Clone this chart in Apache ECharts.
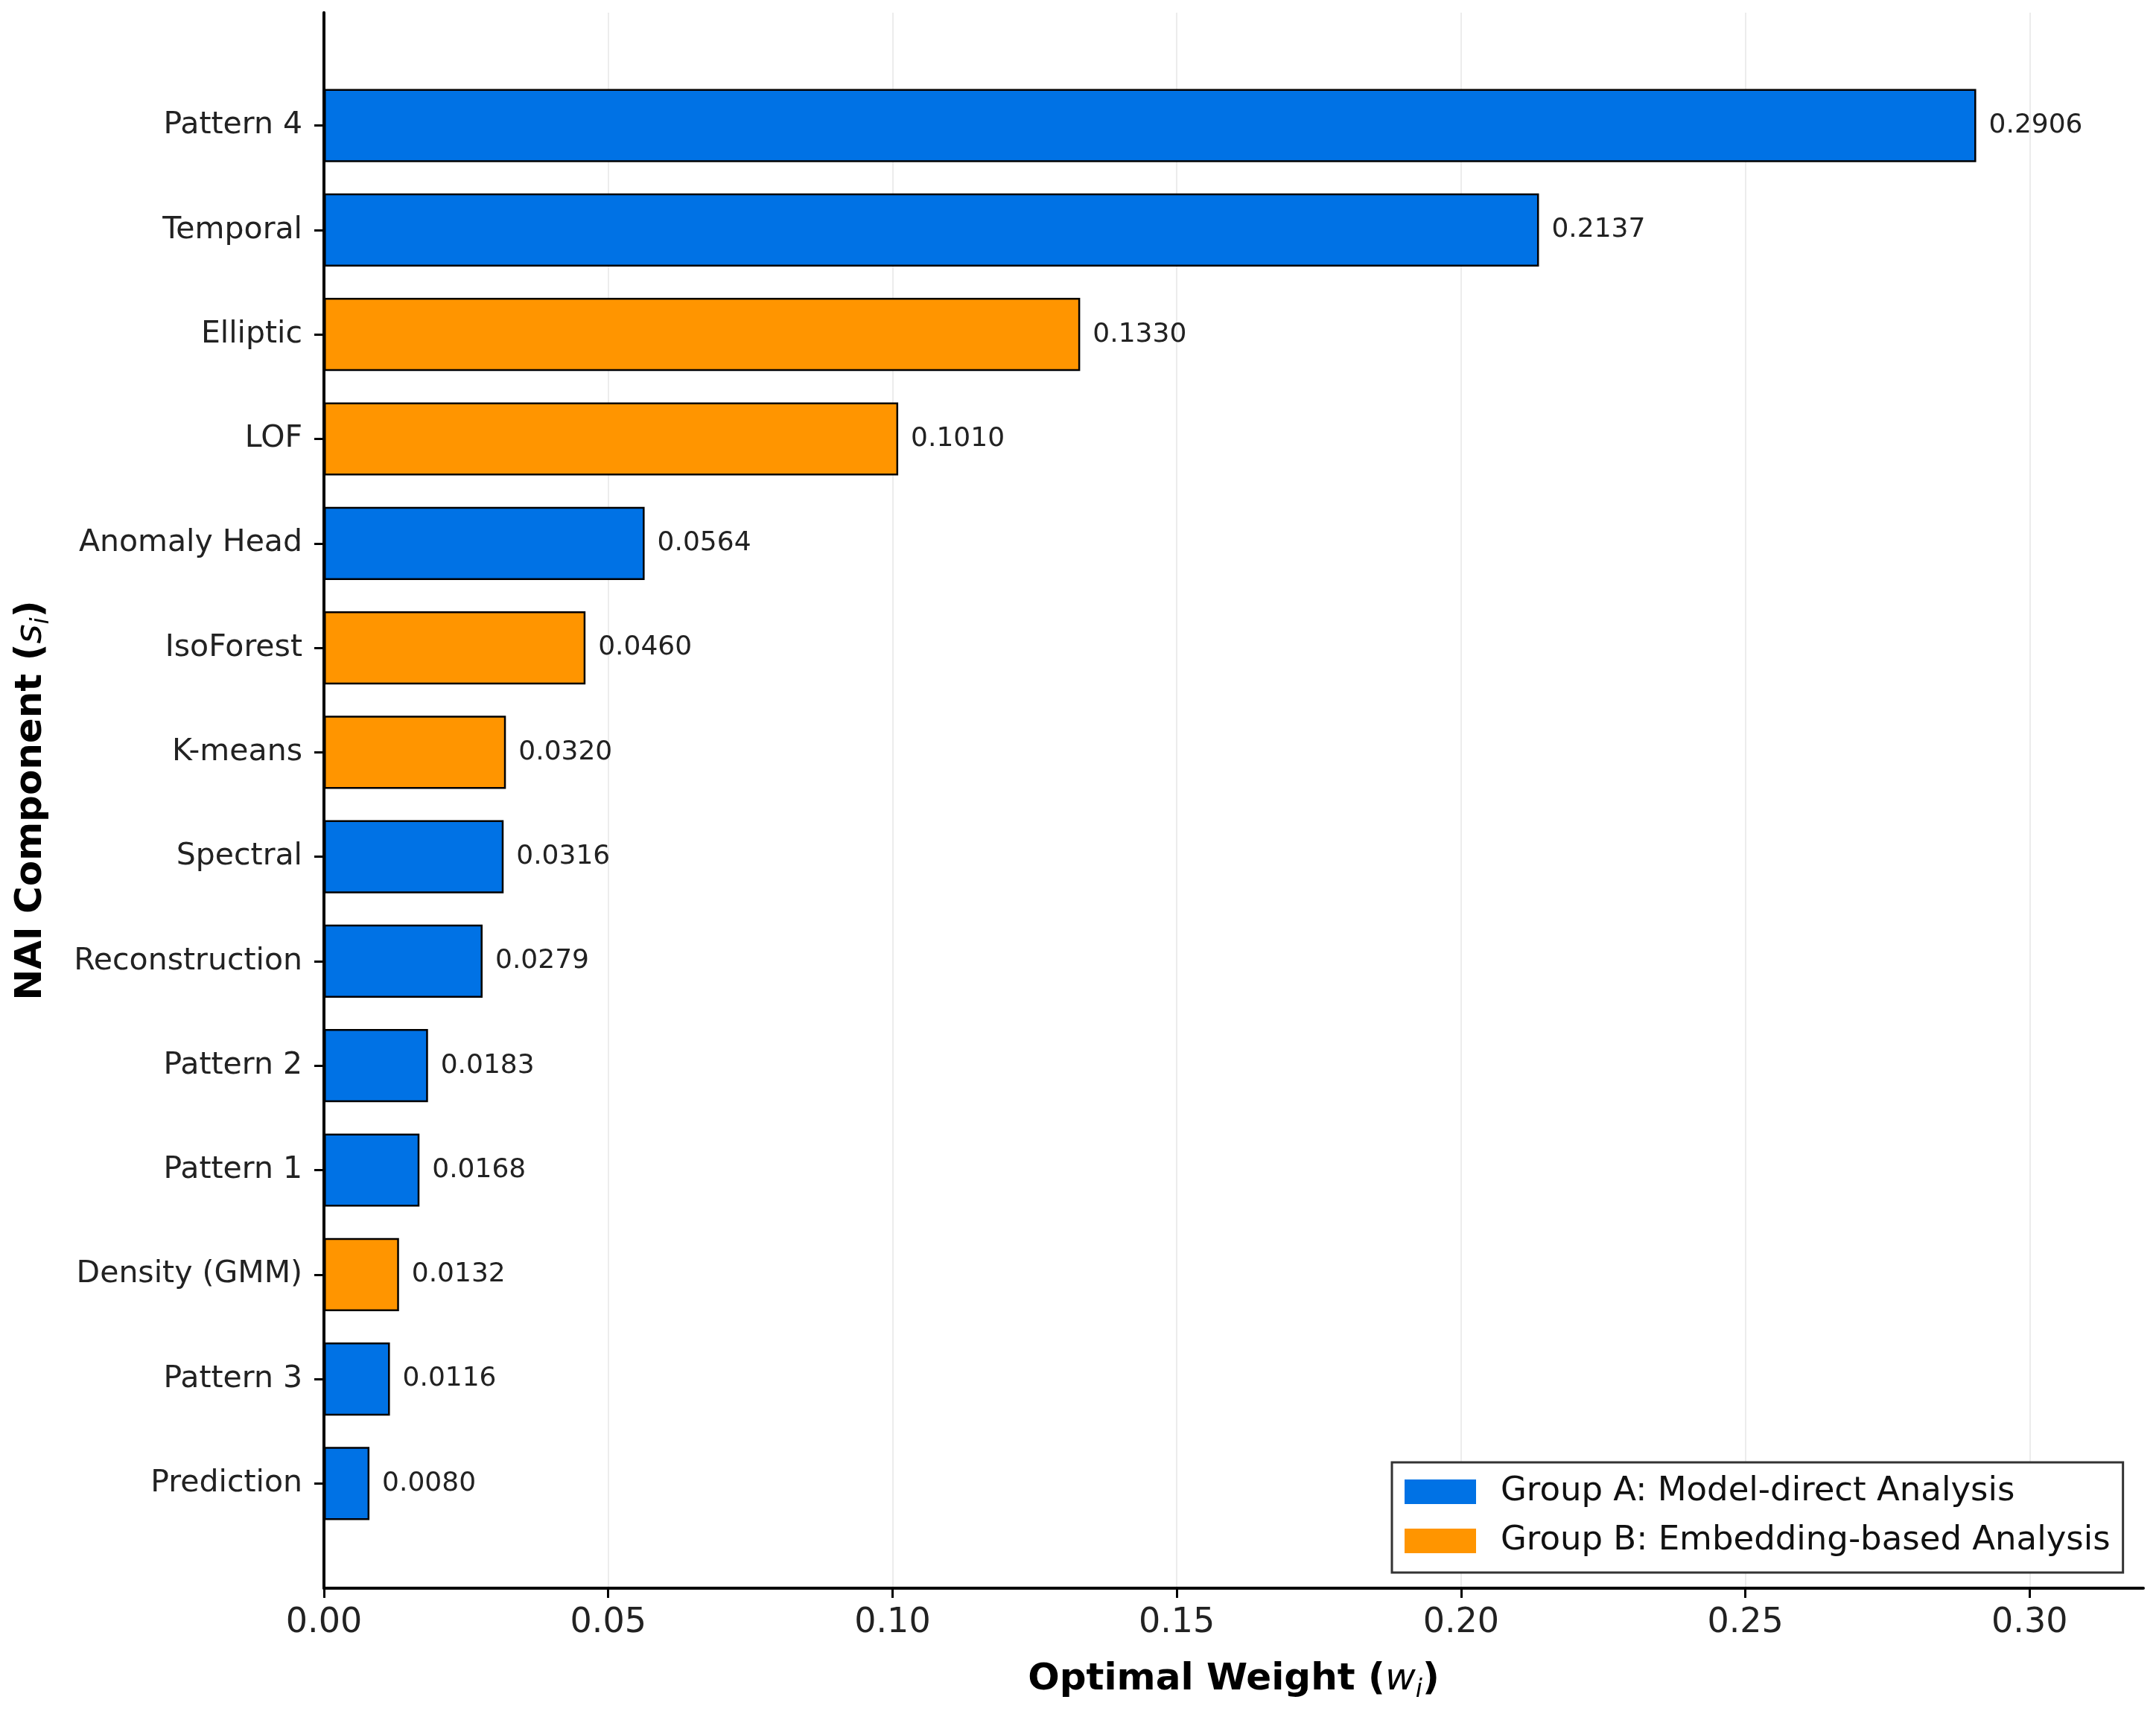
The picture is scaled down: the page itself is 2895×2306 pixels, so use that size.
<!DOCTYPE html>
<html>
<head>
<meta charset="utf-8">
<script src="https://cdn.jsdelivr.net/npm/echarts@6/dist/echarts.min.js"></script>
<style>
html,body{margin:0;padding:0;background:#fff;}
#chart{width:2895px;height:2306px;}
</style>
</head>
<body>
<div id="chart"></div>
<script>
// ---- data ----
const categories = ['Pattern 4','Temporal','Elliptic','LOF','Anomaly Head','IsoForest','K-means','Spectral','Reconstruction','Pattern 2','Pattern 1','Density (GMM)','Pattern 3','Prediction'];
const weights = [0.2906,0.2137,0.1330,0.1010,0.0564,0.0460,0.0320,0.0316,0.0279,0.0183,0.0168,0.0132,0.0116,0.0080];
const groups = ['A','A','B','B','A','B','B','A','A','A','A','B','A','A'];
const groupNames = {A:'Group A: Model-direct Analysis', B:'Group B: Embedding-based Analysis'};
const xTicks = [0.00,0.05,0.10,0.15,0.20,0.25,0.30];

const FONT = 'DejaVu Sans';
const BLUE = '#0072E5', ORANGE = '#FF9500';
const XMAX = 0.32;

const seriesA = weights.map((v,i)=> groups[i]==='A' ? v : '-');
const seriesB = weights.map((v,i)=> groups[i]==='B' ? v : '-');

const chart = echarts.init(document.getElementById('chart'), null, {renderer:'canvas'});

const barLabel = {
  show:true, position:'right', distance:17,
  formatter:p=>Number(p.value).toFixed(4),
  fontFamily:FONT, fontSize:36, color:'#222'
};

const titleRich = {
  b:{fontFamily:FONT, fontWeight:'bold', fontSize:50, color:'#000', lineHeight:62, verticalAlign:'middle'},
  it:{fontFamily:FONT, fontStyle:'italic', fontSize:50, color:'#000', lineHeight:62, verticalAlign:'middle'},
  sub:{fontFamily:FONT, fontStyle:'italic', fontSize:33, color:'#000', lineHeight:62, verticalAlign:'bottom'}
};

chart.setOption({
  backgroundColor:'#fff',
  animation:false,
  grid:[
    {left:435, right:17, top:17, bottom:173, containLabel:false},
    {left:435, right:17, top:98.5, bottom:243.5, containLabel:false}
  ],
  xAxis:[
    {
      gridIndex:0, type:'value', min:0, max:XMAX, interval:0.05,
      axisLine:{show:true, lineStyle:{color:'#000', width:4}},
      axisTick:{show:true, length:13, lineStyle:{color:'#000', width:3},
        customValues: xTicks},
      axisLabel:{show:true, margin:24, fontFamily:FONT, fontSize:46, color:'#222',
        customValues: xTicks,
        formatter:v=>Number(v).toFixed(2)},
      splitLine:{show:true, lineStyle:{color:'#ececec', width:2}},
      name:'{b|Optimal Weight (}{it|w}{sub|i}{b|)}',
      nameLocation:'middle', nameGap:92,
      nameTextStyle:{rich:titleRich}
    },
    {
      gridIndex:1, type:'value', min:0, max:XMAX, show:false,
      splitLine:{show:false}
    }
  ],
  yAxis:[
    {
      gridIndex:0, type:'value', min:0, max:1,
      axisLine:{show:true, lineStyle:{color:'#000', width:4}},
      axisTick:{show:false}, axisLabel:{show:false}, splitLine:{show:false},
      name:'{b|NAI Component (}{it|s}{sub|i}{b|)}',
      nameLocation:'middle', nameRotate:90, nameGap:362,
      nameTextStyle:{rich:titleRich}
    },
    {
      gridIndex:1, type:'category', data:categories, inverse:true,
      axisLine:{show:false},
      axisTick:{show:true, alignWithLabel:true, length:13, lineStyle:{color:'#000', width:3}},
      axisLabel:{show:true, margin:29, fontFamily:FONT, fontSize:41, color:'#222'},
      splitLine:{show:false}
    }
  ],
  legend:{
    show:true, orient:'vertical', left:1869, top:1964,
    data:[{name:groupNames.A, icon:'rect'}, {name:groupNames.B, icon:'rect'}],
    itemWidth:96, itemHeight:33, itemGap:21,
    padding:[17,17,20,17],
    borderColor:'#333', borderWidth:3, backgroundColor:'#fff',
    itemStyle:{borderWidth:0},
    textStyle:{fontFamily:FONT, fontSize:45, color:'#111', padding:[0,0,0,28]},
    selectedMode:false
  },
  series:[
    {
      name:groupNames.A, type:'bar', xAxisIndex:1, yAxisIndex:1,
      data:seriesA, barWidth:'70%', barGap:'-100%',
      itemStyle:{color:BLUE, borderColor:'#000', borderWidth:2.5},
      label:barLabel
    },
    {
      name:groupNames.B, type:'bar', xAxisIndex:1, yAxisIndex:1,
      data:seriesB, barWidth:'70%', barGap:'-100%',
      itemStyle:{color:ORANGE, borderColor:'#000', borderWidth:2.5},
      label:barLabel
    }
  ]
});
</script>
</body>
</html>
